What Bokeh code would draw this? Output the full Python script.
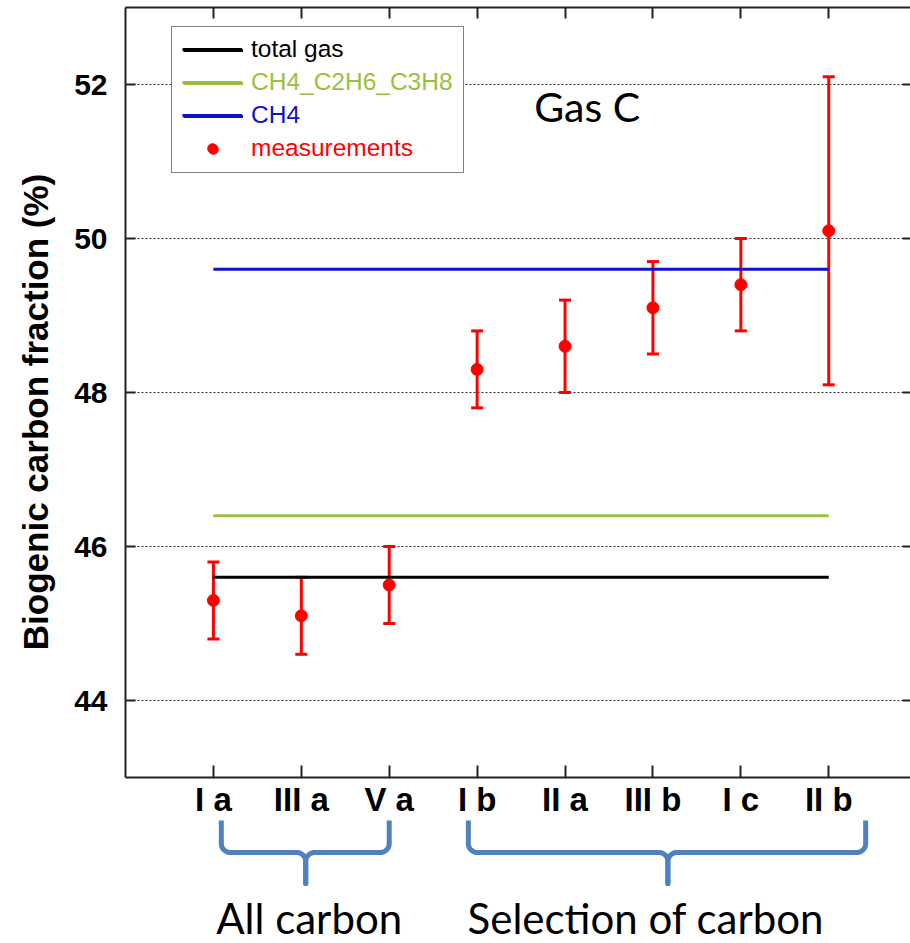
import numpy as np
from bokeh.plotting import figure
from bokeh.models import (Range1d, LinearAxis, FixedTicker, Grid, Legend, LegendItem,
                          Whisker, TeeHead, ColumnDataSource, Label)
from bokeh.layouts import column
from bokeh.embed import file_html
from bokeh.resources import INLINE
from bokeh.core.properties import value

# ---------------- data ----------------
categories = ["I a", "III a", "V a", "I b", "II a", "III b", "I c", "II b"]
measured = [45.3, 45.1, 45.5, 48.3, 48.6, 49.1, 49.4, 50.1]
err_low = [44.8, 44.6, 45.0, 47.8, 48.0, 48.5, 48.8, 48.1]
err_high = [45.8, 45.6, 46.0, 48.8, 49.2, 49.7, 50.0, 52.1]

ref_names = ["total gas", "CH4_C2H6_C3H8", "CH4"]
ref_values = [45.6, 46.4, 49.6]
ref_colors = ["#000000", "#9bbf3c", "#1010c8"]
meas_name = "measurements"
meas_color = "#ff0000"

y_ticks = [44, 46, 48, 50, 52]
y_label = "Biogenic carbon fraction (%)"
panel_title = "Gas C"
groups = ["All carbon", "Selection of carbon"]

# ---------------- layout constants ----------------
W = 910
TOP_H = 820
BOT_H = 943 - TOP_H
LEFT = 125
FRAME_H = 769
Y0, Y1 = 43, 53
X_END = 8.93
PX_PER_X = (W - LEFT) / X_END
FONT = "Liberation Sans"
NOTE_FONT = "Lato"
BRACE_COLOR = "#4f81bd"

x_pos = list(range(1, len(categories) + 1))

p = figure(width=W, height=TOP_H, x_range=Range1d(0, X_END), y_range=Range1d(Y0, Y1),
           output_backend="svg", toolbar_location=None,
           x_axis_location=None, y_axis_location=None,
           min_border_left=LEFT, min_border_right=0, min_border_top=7, min_border_bottom=0,
           outline_line_color=None, background_fill_color="white")
p.center = [r for r in p.center if not isinstance(r, Grid)]

p.add_layout(Grid(dimension=1, ticker=FixedTicker(ticks=y_ticks), grid_line_color="#333333",
                  grid_line_dash="2 2", grid_line_width=1))

AX_COLOR = "#222222"
# trailing no-break spaces nudge the centred title slightly downwards, as in the reference
yax = LinearAxis(ticker=FixedTicker(ticks=y_ticks), axis_label=y_label + "\u00a0" * 4,
                 axis_label_text_font=FONT, axis_label_text_font_style="bold",
                 axis_label_text_font_size="35px", axis_label_standoff=16,
                 axis_label_text_color="black",
                 major_label_text_font=FONT, major_label_text_font_style="bold",
                 major_label_text_font_size="30px", major_label_standoff=18,
                 major_label_text_color="black",
                 major_tick_in=10, major_tick_out=0, minor_tick_line_color=None,
                 axis_line_width=2, major_tick_line_width=2,
                 axis_line_color=AX_COLOR, major_tick_line_color=AX_COLOR)
p.add_layout(yax, "left")

xax = LinearAxis(ticker=FixedTicker(ticks=x_pos),
                 major_label_overrides={x: c for x, c in zip(x_pos, categories)},
                 major_label_text_font=FONT, major_label_text_font_style="bold",
                 major_label_text_font_size="33px", major_label_standoff=3,
                 major_label_text_color="black",
                 major_tick_in=12, major_tick_out=0, minor_tick_line_color=None,
                 axis_line_width=2, major_tick_line_width=2,
                 axis_line_color=AX_COLOR, major_tick_line_color=AX_COLOR)
p.add_layout(xax, "below")

top_ax = LinearAxis(ticker=FixedTicker(ticks=x_pos),
                    major_label_overrides={x: "" for x in x_pos},
                    major_label_text_font_size="0px", major_label_standoff=0,
                    major_tick_in=11, major_tick_out=0, minor_tick_line_color=None,
                    axis_line_width=2, major_tick_line_width=2,
                    axis_line_color=AX_COLOR, major_tick_line_color=AX_COLOR)
p.add_layout(top_ax, "above")


def right_axis(ticks):
    return LinearAxis(ticker=FixedTicker(ticks=ticks),
                      major_label_overrides={t: "" for t in ticks},
                      major_label_text_font_size="0px", major_label_standoff=0,
                      major_tick_in=8, major_tick_out=0, minor_tick_line_color=None,
                      axis_line_color=None, major_tick_line_width=2,
                      major_tick_line_color=AX_COLOR)


p.add_layout(right_axis(y_ticks), "right")

# reference lines
ref_renderers = []
for v, c in zip(ref_values, ref_colors):
    r = p.line(x=[x_pos[0], x_pos[-1]], y=[v, v], line_color=c, line_width=3)
    ref_renderers.append(r)

# measurements
src = ColumnDataSource(dict(x=x_pos, y=measured, lo=err_low, hi=err_high))
m = p.scatter("x", "y", source=src, size=12, color=meas_color)
p.add_layout(Whisker(base="x", upper="hi", lower="lo", source=src, dimension="height",
                     line_color=meas_color, line_width=3,
                     upper_head=TeeHead(size=12, line_color=meas_color, line_width=3),
                     lower_head=TeeHead(size=12, line_color=meas_color, line_width=3)))

# legend: one box legend, plus one borderless single-item legend per row so
# that every label can carry its own colour (borderless legends have no padding)
LEG_X, LEG_TOP = 46, 20
PAD, GW, GH, SP, STANDOFF = 11, 60, 24, 9, 9
all_renderers = ref_renderers + [m]
all_names = ref_names + [meas_name]
all_colors = ref_colors + [meas_color]
n_items = len(all_renderers)
leg_h = 2 * PAD + n_items * GH + (n_items - 1) * SP
common = dict(spacing=SP, glyph_width=GW, glyph_height=GH,
              label_height=GH, label_width=200, label_standoff=STANDOFF, margin=0,
              label_text_font=FONT, label_text_font_size="24.5px")
box = Legend(items=[LegendItem(label=" ", renderers=[r]) for r in all_renderers],
             location=(LEG_X, FRAME_H - LEG_TOP - leg_h), padding=PAD,
             border_line_color="black", border_line_width=1.5,
             background_fill_color="white", background_fill_alpha=1.0, **common)
p.add_layout(box)

for i, (r, txt, col) in enumerate(zip(all_renderers, all_names, all_colors)):
    item_top = LEG_TOP + PAD + i * (GH + SP)
    lg = Legend(items=[LegendItem(label=txt, renderers=[r])],
                location=(LEG_X + PAD, FRAME_H - item_top - GH), padding=0,
                border_line_color=None, background_fill_alpha=0.0,
                label_text_color=col, **common)
    p.add_layout(lg)

p.add_layout(Label(x=4.65, y=51.71, text=panel_title, text_font=NOTE_FONT,
                   text_font_size="41px", text_color="black",
                   text_baseline="alphabetic", text_align="left", level="overlay"))

# ---------------- bottom annotation strip ----------------
p2 = figure(width=W, height=BOT_H, x_range=p.x_range, y_range=Range1d(BOT_H, 0),
            output_backend="svg", toolbar_location=None,
            x_axis_location=None, y_axis_location=None,
            min_border_left=LEFT, min_border_right=0, min_border_top=0, min_border_bottom=0,
            outline_line_color=None)
p2.center = [r for r in p2.center if not isinstance(r, Grid)]
p2.add_layout(right_axis([]), "right")

brace_spans = [(1.09, 3.0, 2.05), (3.90, 8.42, 6.17)]   # (left, right, tip) in category units
text_centers = [2.09, 5.92]
Y_TOP, Y_MID, Y_TIP, R_PX = -2, 32, 63, 9
rx = R_PX / PX_PER_X
t = np.linspace(0, np.pi / 2, 14)

xs_all, ys_all = [], []
for xa, xb, xm in brace_spans:
    lx = [xa] + list((xa + rx) - rx * np.cos(t)) + list((xm - rx) + rx * np.sin(t)) + [xm]
    ly = [Y_TOP] + list((Y_MID - R_PX) + R_PX * np.sin(t)) + list((Y_MID + R_PX) - R_PX * np.cos(t)) + [Y_TIP]
    rxs = [xm] + list((xm + rx) - rx * np.sin(t[::-1])) + list((xb - rx) + rx * np.sin(t)) + [xb]
    rys = [Y_TIP] + list((Y_MID + R_PX) - R_PX * np.cos(t[::-1])) + list((Y_MID - R_PX) + R_PX * np.cos(t)) + [Y_TOP]
    xs_all += [lx, rxs]
    ys_all += [ly, rys]

p2.multi_line(xs=xs_all, ys=ys_all, line_color=BRACE_COLOR, line_width=5,
              line_cap="round", line_join="round")

p2.text(x=text_centers, y=[97] * len(groups), text=groups, text_align="center",
        text_baseline="alphabetic", text_font=value(NOTE_FONT), text_font_size="42px",
        text_color="black")

layout = column(p, p2, spacing=0)
open("out.html", "w").write(file_html(layout, INLINE))
